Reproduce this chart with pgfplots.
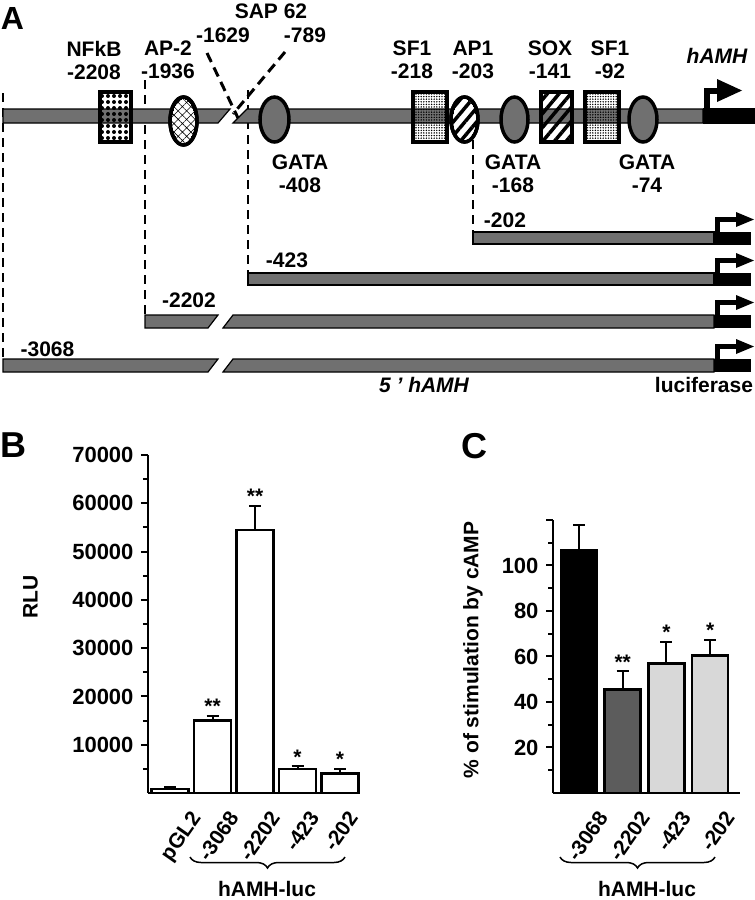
\documentclass[border=0pt]{standalone}
\usepackage{pgfplots}
\pgfplotsset{compat=1.18}
\usepackage{fontspec}
\setmainfont{Liberation Sans}
\usetikzlibrary{patterns,patterns.meta,decorations.pathreplacing}

\definecolor{dnagrey}{RGB}{112,112,112}
\definecolor{midbar}{RGB}{92,92,92}
\definecolor{lightbar}{RGB}{216,216,216}
\newcommand\fs[1]{\fontsize{#1}{#1}\selectfont\bfseries}

\pgfplotsset{
  panel/.style={
    scale only axis, axis x line=bottom, axis y line=left,
    axis line style={line width=2.5pt,-},
    tick align=outside, major tick length=7pt, minor tick length=5pt,
    every tick/.style={line width=2pt,black},
    xtick style={draw=none},
    ticklabel style={font=\fs{22}},
    /pgf/number format/assume math mode=true,
    /pgf/number format/fixed,
    /pgf/number format/1000 sep={},
    scaled y ticks=false,
    yticklabel style={xshift=-4pt},
    xticklabel style={rotate=55,anchor=north east,font=\fs{21},inner sep=1pt},
    xticklabel shift=8pt,
    ylabel style={font=\fs{21},anchor=center},
  },
  errs/.style={error bars/.cd, y dir=plus, y explicit,
    error bar style={line width=2pt},
    error mark options={rotate=90,mark size=6pt,line width=2pt}},
}

\begin{document}
\begin{tikzpicture}
\useasboundingbox (0,0) rectangle (755pt,900pt);
% panel A: promoter map, drawn in pixel units
\begin{axis}[at={(0,0)},anchor=south west,width=755pt,height=900pt,scale only axis,
  xmin=0,xmax=755,ymin=0,ymax=900,y dir=reverse,hide axis,clip=false]
% dashed deletion limits
\draw[dash pattern=on 9pt off 6pt,line width=1.4pt] (3,93) -- (3,360);
\draw[dash pattern=on 9pt off 6pt,line width=1.4pt] (145,80) -- (145,316);
\draw[dash pattern=on 9pt off 6pt,line width=1.4pt] (248,90) -- (248,274);
\draw[dash pattern=on 9pt off 6pt,line width=1.4pt] (473,140) -- (473,233);
% main promoter bar
\filldraw[fill=dnagrey,draw=black,line width=1.2pt] (3,109) -- (230,109) -- (218,123) -- (3,123) -- cycle;
\filldraw[fill=dnagrey,draw=black,line width=1.2pt] (247,109) -- (703,109) -- (703,123) -- (233,123) -- cycle;
\fill (703,108) rectangle (755,124);
\draw[line width=6pt] (706.5,124) -- (706.5,91) -- (720,91);
\fill (717,79) -- (742,90.5) -- (717,102) -- cycle;
% SAP 62 gap
\draw[dash pattern=on 10pt off 6pt,line width=3pt] (207,53) -- (238,118);
\draw[dash pattern=on 10pt off 6pt,line width=3pt] (285,52) -- (233,114);
% boxes
\draw[line width=3.5pt,pattern={Dots[distance=6pt,radius=2pt]}] (100,92) rectangle (131,142);
\draw[line width=3.5pt,pattern={Dots[distance=2.6pt,radius=0.8pt]}] (413,92) rectangle (447,142);
\draw[line width=3.5pt,pattern={Lines[angle=50,distance=9pt,line width=3.5pt]}] (541,92) rectangle (572,142);
\draw[line width=3.5pt,pattern={Dots[distance=2.6pt,radius=0.8pt]}] (585,92) rectangle (619,142);
% ellipses
\filldraw[fill=white,line width=3.5pt] (183.5,121) ellipse [x radius=13.5,y radius=24];
\draw[line width=0pt,pattern={Hatch[angle=45,distance=6pt,line width=0.6pt]}] (183.5,121) ellipse [x radius=12,y radius=22.5];
\draw[line width=3.5pt] (183.5,121) ellipse [x radius=13.5,y radius=24];
\filldraw[fill=dnagrey,line width=3.5pt] (274.5,119.5) ellipse [x radius=14.5,y radius=22.5];
\filldraw[fill=white,line width=3.5pt] (464.5,119.5) ellipse [x radius=13.5,y radius=22.5];
\draw[line width=0pt,pattern={Lines[angle=50,distance=9pt,line width=3.5pt]}] (464.5,119.5) ellipse [x radius=12,y radius=21];
\draw[line width=3.5pt] (464.5,119.5) ellipse [x radius=13.5,y radius=22.5];
\filldraw[fill=dnagrey,line width=3.5pt] (514.5,119.5) ellipse [x radius=13.5,y radius=22.5];
\filldraw[fill=dnagrey,line width=3.5pt] (643,119.5) ellipse [x radius=14,y radius=22.5];
% site labels
\node[font=\fs{32}] at (12.5,18.5) {A};
\node[font=\fs{21},align=center] at (94,60) {NFkB\\[2pt]-2208};
\node[font=\fs{21},align=center] at (168,60) {AP-2\\[2pt]-1936};
\node[font=\fs{21}] at (271,11) {SAP 62};
\node[font=\fs{21}] at (223,35) {-1629};
\node[font=\fs{21}] at (305,35) {-789};
\node[font=\fs{21},align=center] at (300,174) {GATA\\[2pt]-408};
\node[font=\fs{21},align=center] at (412,60) {SF1\\[2pt]-218};
\node[font=\fs{21},align=center] at (473,60) {AP1\\[2pt]-203};
\node[font=\fs{21},align=center] at (550,60) {SOX\\[2pt]-141};
\node[font=\fs{21},align=center] at (610,60) {SF1\\[2pt]-92};
\node[font=\fs{21}\itshape] at (717,56) {hAMH};
\node[font=\fs{21},align=center] at (513,174) {GATA\\[2pt]-168};
\node[font=\fs{21},align=center] at (647,174) {GATA\\[2pt]-74};
% deletion constructs
\filldraw[fill=dnagrey,draw=black,line width=1.2pt] (473,232) rectangle (714,244);
\filldraw[fill=dnagrey,draw=black,line width=1.2pt] (248,273) rectangle (714,285);
\filldraw[fill=dnagrey,draw=black,line width=1.2pt] (145,315) -- (218,315) -- (208,328) -- (145,328) -- cycle;
\filldraw[fill=dnagrey,draw=black,line width=1.2pt] (233,315) -- (714,315) -- (714,328) -- (223,328) -- cycle;
\filldraw[fill=dnagrey,draw=black,line width=1.2pt] (3,359) -- (218,359) -- (208,372) -- (3,372) -- cycle;
\filldraw[fill=dnagrey,draw=black,line width=1.2pt] (233,359) -- (714,359) -- (714,372) -- (223,372) -- cycle;
\pgfplotsinvokeforeach{232,273,315,359}{
  \fill (714,#1) rectangle (751,#1+12.5);
  \draw[line width=5pt] (717,#1+12) -- (717,#1-12.5) -- (740,#1-12.5);
  \fill (736,#1-20) -- (754,#1-12.5) -- (736,#1-5) -- cycle;
}
\node[font=\fs{21}] at (505,220) {-202};
\node[font=\fs{21}] at (287,260) {-423};
\node[font=\fs{21}] at (189,300) {-2202};
\node[font=\fs{21}] at (47.5,349.5) {-3068};
\node[font=\fs{21}\itshape] at (424,385) {5 ' hAMH};
\node[font=\fs{21}] at (704,385) {luciferase};
% panel letters and braces for B and C
\node[font=\fs{36}] at (13,445) {B};
\node[font=\fs{36}] at (474,446) {C};
\draw[decorate,decoration={brace,mirror,amplitude=11pt},line width=1.5pt] (190,857) -- (345,857);
\node[font=\fs{21}] at (267,889) {hAMH-luc};
\draw[decorate,decoration={brace,mirror,amplitude=11pt},line width=1.5pt] (560,857) -- (715,857);
\node[font=\fs{21}] at (647,889) {hAMH-luc};
\end{axis}

% panel B: basal activity
\begin{axis}[panel,at={(148pt,107pt)},anchor=south west,width=212pt,height=338pt,
  xmin=-0.518,xmax=4.47,ymin=0,ymax=70000,
  ytick={10000,20000,...,70000},minor ytick={5000,15000,...,65000},
  xtick={0.45,1.35,2.32,3.24,4.15},xticklabels={pGL2,-3068,-2202,-423,-202},
  ylabel={RLU},ylabel style={at={(axis description cs:-0.554,0.58)}}]
\addplot[ybar,bar width=37pt,fill=white,draw=black,line width=2.5pt,errs]
  coordinates {(0,800) +- (0,500) (1,15000) +- (0,1000) (2,54500) +- (0,5000)
               (3,5000) +- (0,500) (4,4000) +- (0,1000)};
\node[above,font=\fs{21},inner sep=2pt] at (axis cs:1,16000) {**};
\node[above,font=\fs{21},inner sep=2pt] at (axis cs:2,59500) {**};
\node[above,font=\fs{21},inner sep=2pt] at (axis cs:3,5500) {*};
\node[above,font=\fs{21},inner sep=2pt] at (axis cs:4,5000) {*};
\end{axis}

% panel C: cAMP stimulation
\begin{axis}[panel,at={(553pt,107pt)},anchor=south west,width=187pt,height=273pt,
  xmin=-0.595,xmax=3.684,ymin=0,ymax=120,
  ytick={20,40,...,100},extra y ticks={120},extra y tick labels={},
  minor ytick={10,30,...,110},
  xtick={0.4,1.36,2.3,3.3},xticklabels={-3068,-2202,-423,-202},
  ylabel={\% of stimulation by cAMP},ylabel style={at={(axis description cs:-0.428,0.524)}}]
\addplot[ybar,bar width=36pt,bar shift=0pt,fill=black,draw=black,line width=2.5pt,errs]
  coordinates {(0,106.5) +- (0,11.5)};
\addplot[ybar,bar width=36pt,bar shift=0pt,fill=midbar,draw=black,line width=2.5pt,errs]
  coordinates {(1,45.5) +- (0,8)};
\addplot[ybar,bar width=36pt,bar shift=0pt,fill=lightbar,draw=black,line width=2.5pt,errs]
  coordinates {(2,57) +- (0,9.5) (3,60.5) +- (0,6.7)};
\node[above,font=\fs{21},inner sep=2pt] at (axis cs:1,53.5) {**};
\node[above,font=\fs{21},inner sep=2pt] at (axis cs:2,66.5) {*};
\node[above,font=\fs{21},inner sep=2pt] at (axis cs:3,67.2) {*};
\end{axis}
\end{tikzpicture}
\end{document}
